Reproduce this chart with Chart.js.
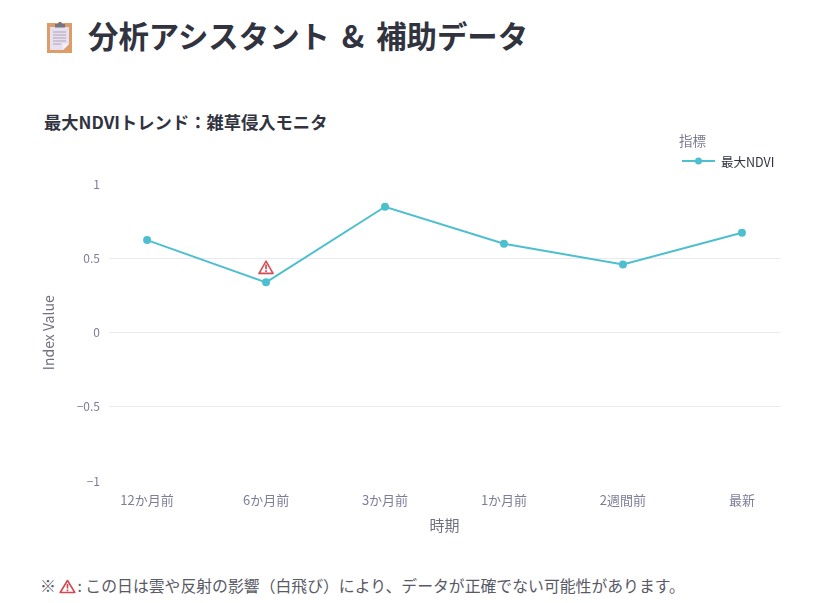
<!DOCTYPE html>
<html lang="ja">
<head>
<meta charset="utf-8">
<title>分析アシスタント & 補助データ</title>
<script src="https://cdn.jsdelivr.net/npm/chart.js@4"></script>
<style>
    html, body { margin: 0; padding: 0; background: #fff; overflow: hidden; }
    body { width: 821px; height: 603px; position: relative; font-family: "Noto Sans CJK JP", "Noto Sans", sans-serif; color: #31333F; }
    .abs { position: absolute; white-space: nowrap; line-height: 1; }
    #main-title { left: 88px; top: 20px; font-size: 30.4px; font-weight: 700; word-spacing: 5px; }
    #chart-title { left: 44px; top: 113px; font-size: 17.3px; font-weight: 700; }
    #legend-title { left: 679px; top: 134px; font-size: 13.5px; color: #7d7d92; }
    #legend-item { left: 721px; top: 156px; font-size: 12.5px; color: #31333F; }
    #legend-swatch { left: 682px; top: 156px; }
    #note { left: 40px; top: 578px; font-size: 15.85px; color: #585a66; }
    #note svg { vertical-align: -2px; margin: 0 1px 0 0; }
    #data-chart { position: absolute; left: 40px; top: 100px; }
</style>
</head>
<body>
<svg class="abs" style="left:47px;top:21px" width="26" height="32" viewBox="0 0 26 32">
    <rect x="0" y="2" width="25" height="30" fill="#dc9d68"/>
    <path d="M3 6H22V23L16 29H3Z" fill="#e8dff0"/>
    <path d="M16 29L22 23H16Z" fill="#f6f1fa"/>
    <path d="M8 5.5V3H11C11 0 15 0 15 3H18V6.5H8Z" fill="#75757f"/>
    <path d="M6 11H19M6 14H19M6 17H19M6 20H19M6 23H14" stroke="#a8a4b4" stroke-width="1"/>
</svg>
<div class="abs" id="main-title">分析アシスタント &amp; 補助データ</div>
<div class="abs" id="chart-title">最大NDVIトレンド：雑草侵入モニタ</div>
<canvas id="data-chart" width="781" height="440"></canvas>
<div class="abs" id="legend-title"></div>
<svg class="abs" id="legend-swatch" width="33" height="10" viewBox="0 0 33 10">
    <path d="M0 5H33" stroke="#4DBFCF" stroke-width="2"/>
    <circle cx="16.5" cy="5" r="3.5" fill="#4DBFCF"/>
</svg>
<div class="abs" id="legend-item"></div>
<div class="abs" id="note">※ <svg width="17" height="15" viewBox="0 0 17 15"><path d="M8.5 1.5L15.8 13.5H1.2Z" fill="#fff" stroke="#d04a50" stroke-width="1.6" stroke-linejoin="round"/><path d="M8.5 5V9.5M8.5 10.6V12.2" stroke="#d04a50" stroke-width="1.7"/></svg>: この日は雲や反射の影響（白飛び）により、データが正確でない可能性があります。</div>

<script>
// Chart data
const periods = ['12か月前', '6か月前', '3か月前', '1か月前', '2週間前', '最新'];
const maxNdvi = [0.625, 0.34, 0.85, 0.6, 0.46, 0.675];
const warningPeriods = [1];
const warningValues = [0.44];
const yTicks = [-1, -0.5, 0, 0.5, 1];
const seriesName = '最大NDVI';
const legendName = '指標';

document.getElementById('legend-title').textContent = legendName;
document.getElementById('legend-item').textContent = seriesName;

const lineColor = '#4DBFCF';
const tickColor = '#7d7d9a';
const gridColor = '#e9e9f1';

// Warning icon used as the point style of the flag series
function makeWarningIcon() {
    const icon = document.createElement('canvas');
    icon.width = 16;
    icon.height = 15;
    const c = icon.getContext('2d');
    c.strokeStyle = '#d04a50';
    c.lineWidth = 1.6;
    c.lineJoin = 'round';
    c.fillStyle = '#fff';
    c.beginPath();
    c.moveTo(8, 1.2);
    c.lineTo(15, 13.4);
    c.lineTo(1, 13.4);
    c.closePath();
    c.fill();
    c.stroke();
    c.lineWidth = 1.7;
    c.beginPath();
    c.moveTo(8, 4.5);
    c.lineTo(8, 9.2);
    c.moveTo(8, 10.2);
    c.lineTo(8, 12);
    c.stroke();
    return icon;
}

new Chart(document.getElementById('data-chart').getContext('2d'), {
    type: 'line',
    data: {
        datasets: [{
            label: seriesName,
            data: maxNdvi.map((v, i) => ({ x: i, y: v })),
            borderColor: lineColor,
            backgroundColor: lineColor,
            borderWidth: 2,
            pointRadius: 3,
            pointHoverRadius: 3,
            tension: 0
        }, {
            label: 'warning',
            data: warningPeriods.map((p, i) => ({ x: p, y: warningValues[i] })),
            showLine: false,
            pointStyle: makeWarningIcon()
        }]
    },
    options: {
        responsive: false,
        animation: false,
        devicePixelRatio: 1,
        layout: { padding: { top: 84.5, right: 41, left: 0, bottom: 0 } },
        plugins: { legend: { display: false }, tooltip: { enabled: false } },
        scales: {
            x: {
                type: 'linear',
                min: -0.32,
                max: 5.32,
                afterBuildTicks: function(axis) {
                    axis.ticks = periods.map((p, i) => ({ value: i }));
                },
                afterFit: function(axis) { axis.height = 59; },
                grid: { display: false },
                border: { display: false },
                ticks: {
                    color: tickColor,
                    font: { size: 13, family: '"Noto Sans CJK JP"' },
                    padding: 3,
                    maxRotation: 0,
                    callback: function(value) { return periods[value]; }
                },
                title: {
                    display: true,
                    text: '時期',
                    color: '#6f7082',
                    font: { size: 15, family: '"Noto Sans CJK JP"' },
                    padding: { top: 0, bottom: 6 }
                }
            },
            y: {
                min: -1,
                max: 1,
                afterBuildTicks: function(axis) {
                    axis.ticks = yTicks.map(v => ({ value: v }));
                },
                afterFit: function(axis) { axis.width = 69; },
                grid: {
                    drawTicks: false,
                    color: ctx => Math.abs(ctx.tick.value) === 1 ? 'rgba(0,0,0,0)' : gridColor
                },
                border: { display: false },
                ticks: {
                    color: tickColor,
                    font: { size: 12, family: '"Noto Sans CJK JP"' },
                    padding: 9,
                    callback: function(value) { return String(value).replace('-', '\u2212'); }
                },
                title: {
                    display: true,
                    text: 'Index Value',
                    color: '#6f7082',
                    font: { size: 14, family: '"Noto Sans CJK JP"' },
                    padding: { top: 0, bottom: 0 }
                }
            }
        }
    }
});
</script>
</body>
</html>
